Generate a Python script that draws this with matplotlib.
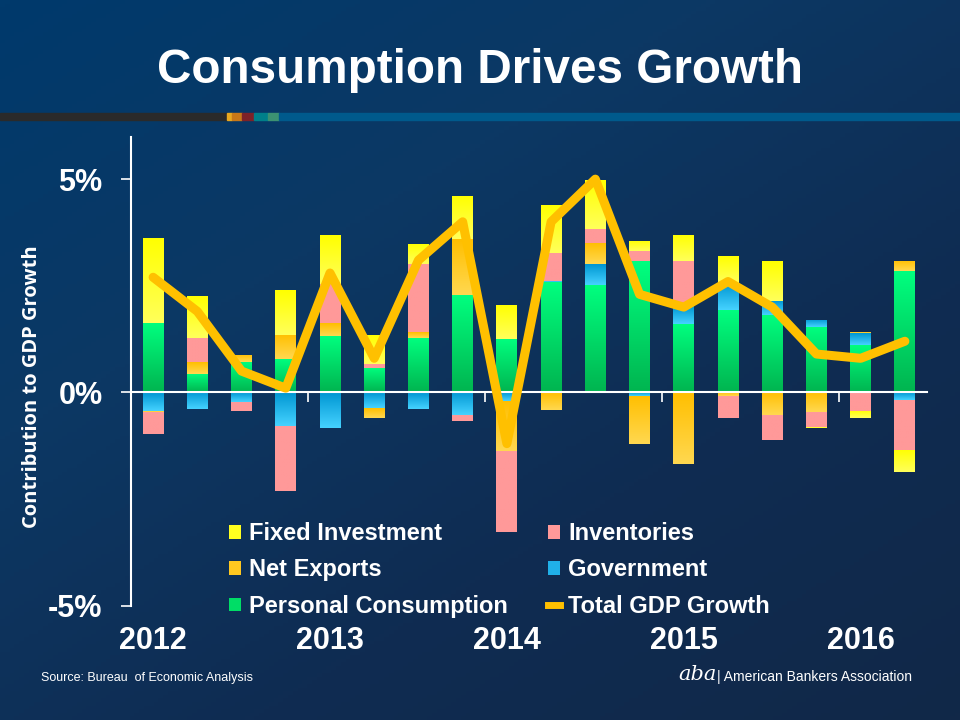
import matplotlib
matplotlib.use("Agg")
from matplotlib import pyplot as plt
from matplotlib.patches import Rectangle, Patch
from matplotlib.lines import Line2D
from matplotlib.colors import LinearSegmentedColormap
import matplotlib.transforms as mtransforms
import numpy as np

plt.rcParams['font.family'] = ['Liberation Sans', 'DejaVu Sans']

# quarterly contributions to GDP growth, 2012Q1 - 2016Q2 (percentage points)
quarters = ['2012Q1', '2012Q2', '2012Q3', '2012Q4', '2013Q1', '2013Q2', '2013Q3', '2013Q4',
            '2014Q1', '2014Q2', '2014Q3', '2014Q4', '2015Q1', '2015Q2', '2015Q3', '2015Q4',
            '2016Q1', '2016Q2']
pce = [1.63, 0.44, 0.71, 0.78, 1.32, 0.57, 1.28, 2.29, 1.25, 2.58, 2.53, 3.07,
       1.61, 1.94, 1.82, 1.53, 1.11, 2.84]
government = [-0.43, -0.40, -0.23, -0.78, -0.84, -0.37, -0.38, -0.54, -0.21, 0.03, 0.47, -0.09,
              0.42, 0.63, 0.33, 0.17, 0.28, -0.17]
net_exports = [-0.03, 0.28, 0.17, 0.57, 0.30, -0.22, 0.14, 1.30, -1.16, -0.42, 0.50, -1.13,
               -1.68, -0.09, -0.54, -0.47, 0.02, 0.24]
inventories = [-0.52, 0.55, -0.20, -1.54, 0.93, 0.09, 1.60, -0.12, -1.90, 0.66, 0.33, 0.24,
               1.05, -0.52, -0.57, -0.35, -0.43, -1.18]
fixed_inv = [2.00, 0.99, 0.00, 1.04, 1.13, 0.68, 0.47, 1.02, 0.80, 1.13, 1.16, 0.24,
             0.61, 0.63, 0.92, -0.02, -0.17, -0.52]
gdp_total = [2.7, 1.9, 0.5, 0.1, 2.8, 0.8, 3.1, 4.0, -1.2, 4.0, 5.0, 2.3,
             2.0, 2.6, 2.0, 0.9, 0.8, 1.2]
years = ['2012', '2013', '2014', '2015', '2016']

# stack order from the zero line outwards
components = [
    ('Personal Consumption', pce, '#00FF7F', '#00B550'),
    ('Government', government, '#0096D2', '#45D2FF'),
    ('Net Exports', net_exports, '#FFBF00', '#FFD850'),
    ('Inventories', inventories, '#FF9999', '#FF9999'),
    ('Fixed Investment', fixed_inv, '#FFFF00', '#FFFF5A'),
]

fig = plt.figure(figsize=(9.6, 7.2), dpi=100)

# background gradient
bg = fig.add_axes([0, 0, 1, 1], zorder=-10)
yy, xx = np.mgrid[0:1:200j, 0:1:200j]
t = 0.55 * yy + 0.45 * xx
bg_cmap = LinearSegmentedColormap.from_list('bg', ['#003a6c', '#0c3864', '#0f2c52', '#112848'])
bg.imshow(t, cmap=bg_cmap, aspect='auto', extent=[0, 1, 0, 1], origin='upper')
bg.axis('off')

# decorative stripe under the title
stripe = [(0, 227, '#2a2a2a'), (227, 232, '#E8A820'), (232, 242, '#C87818'),
          (242, 254, '#7E2228'), (254, 268, '#00808A'), (268, 279, '#3C9272'),
          (279, 960, '#005A8C')]
for x0, x1, c in stripe:
    fig.patches.append(Rectangle((x0 / 960, 600 / 720), (x1 - x0) / 960, 7 / 720,
                                 transform=fig.transFigure, color=c, zorder=-5))

fig.text(0.5, 1 - 83 / 720, 'Consumption Drives Growth', ha='center', va='baseline',
         fontsize=34.3, fontweight='bold', color='white')

ax = fig.add_axes([131 / 960, 114.3 / 720, 796 / 960, 469.2 / 720])
ax.set_facecolor('none')

x = np.arange(len(quarters))
width = 0.47
pos_base = np.zeros(len(x))
neg_base = np.zeros(len(x))
for name, vals, top_c, bot_c in components:
    vals = np.array(vals)
    bottoms = np.where(vals >= 0, pos_base, neg_base)
    bars = ax.bar(x, vals, width, bottom=bottoms, color=bot_c, linewidth=0, zorder=2)
    cmap = LinearSegmentedColormap.from_list(name, [bot_c, top_c])
    grad = np.linspace(0, 1, 64).reshape(-1, 1)
    for p in bars.patches:
        if p.get_height() == 0:
            continue
        x0, y0 = p.get_x(), p.get_y()
        y1 = y0 + p.get_height()
        im = ax.imshow(grad, cmap=cmap, aspect='auto', origin='lower',
                       extent=[x0, x0 + p.get_width(), min(y0, y1), max(y0, y1)], zorder=2.1)
        im.set_clip_path(p)
    pos_base += np.where(vals >= 0, vals, 0)
    neg_base += np.where(vals < 0, vals, 0)

ax.plot(x, gdp_total, color='#FFC000', lw=6.5, solid_joinstyle='round',
        solid_capstyle='round', zorder=5)

ax.set_xlim(-0.5, 17.5)
ax.set_ylim(-5, 6)

for s in ['top', 'right']:
    ax.spines[s].set_visible(False)
ax.spines['bottom'].set_position(('data', 0))
ax.spines['bottom'].set_color('white')
ax.spines['left'].set_color('white')
ax.spines['bottom'].set_linewidth(1.5)
ax.spines['left'].set_linewidth(1.5)
ax.spines['bottom'].set_zorder(3)

ax.set_yticks([-5, 0, 5])
ax.set_yticklabels(['-5%', '0%', '5%'])
ax.tick_params(axis='y', colors='white', length=7.5, width=1.2, pad=13,
               labelsize=22)
for lab in ax.get_yticklabels():
    lab.set_fontweight('bold')
ax.set_xticks([3.5, 7.5, 11.5, 15.5])
ax.set_xticklabels([])
ax.tick_params(axis='x', colors='white', length=7.5, width=1.2, direction='out')

trans = mtransforms.blended_transform_factory(ax.transData, fig.transFigure)
for i, yr in enumerate(years):
    ax.text(i * 4, 1 - 641 / 720, yr, transform=trans, ha='center', va='center',
            fontsize=22, fontweight='bold', color='white')

fig.text(32 / 960, 1 - 387 / 720, 'Contribution to GDP Growth', rotation=90,
         ha='center', va='center', fontsize=14.5, fontweight='bold', color='white',
         family=['Open Sans', 'DejaVu Sans'])

handles = [
    Patch(facecolor='#FFFF20', edgecolor='none'),
    Patch(facecolor='#FFC820', edgecolor='none'),
    Patch(facecolor='#00DD66', edgecolor='none'),
    Patch(facecolor='#FF9999', edgecolor='none'),
    Patch(facecolor='#20B0E8', edgecolor='none'),
    Line2D([0], [0], color='#FFC000', lw=5),
]
labels = ['Fixed Investment', 'Net Exports', 'Personal Consumption',
          'Inventories', 'Government', 'Total GDP Growth']
leg = ax.legend(handles, labels, ncol=2, loc='upper left',
                bbox_to_anchor=(229 / 960, 1 - 522 / 720), bbox_transform=fig.transFigure,
                frameon=False, fontsize=17, handlelength=0.52, handleheight=0.52,
                handletextpad=0.33, columnspacing=1.7, labelspacing=0.57, borderpad=0,
                borderaxespad=0)
for txt in leg.get_texts():
    txt.set_color('white')
    txt.set_fontweight('bold')

fig.text(41 / 960, 1 - 678 / 720, 'Source: Bureau  of Economic Analysis', ha='left',
         va='center', fontsize=9, color='white')
fig.text(912 / 960, 1 - 677 / 720, '| American Bankers Association', ha='right',
         va='center', fontsize=10, color='white')
fig.text(717 / 960, 1 - 675 / 720, 'aba', ha='right', va='center', fontsize=15,
         color='white', family=['DejaVu Serif'], style='italic')

fig.savefig('out.png', dpi=100)
